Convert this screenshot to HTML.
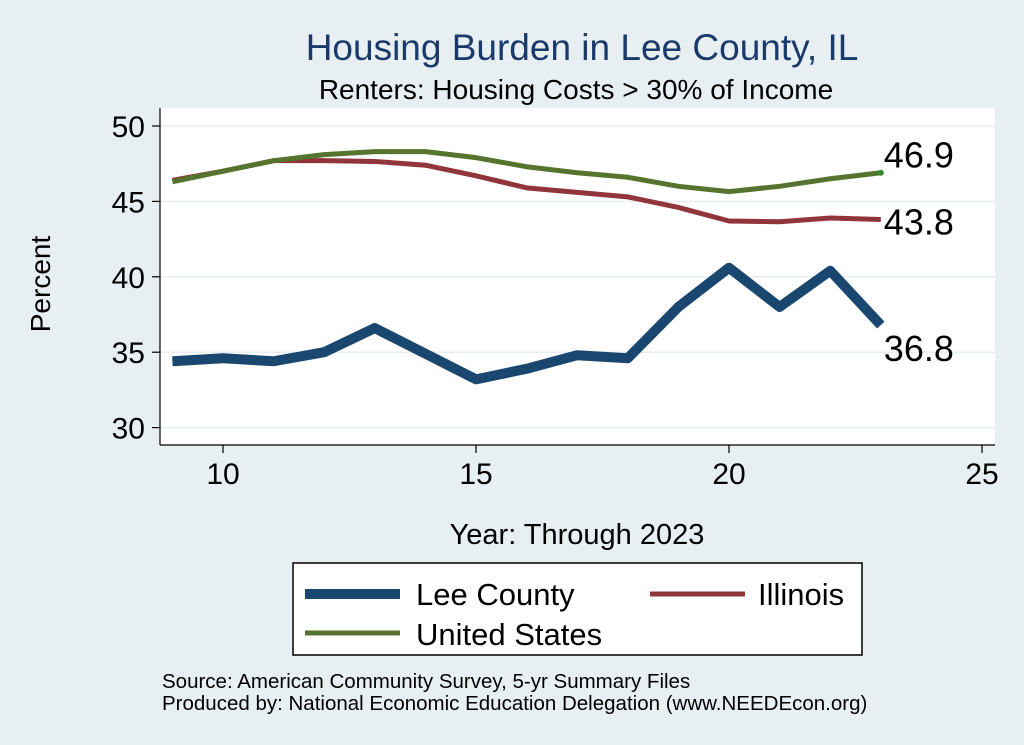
<!DOCTYPE html>
<html><head><meta charset="utf-8"><style>
body{margin:0;background:#e8eff3;}
svg{display:block;font-family:"Liberation Sans",Arial,sans-serif;}
</style></head><body>
<svg id="chart" width="1024" height="745" viewBox="0 0 1024 745">
<rect x="0" y="0" width="1024" height="745" fill="#e8eff3"/>
<text x="582" y="60" text-anchor="middle" font-size="37" fill="#1a3a6b">Housing Burden in Lee County, IL</text>
<text x="576" y="99" text-anchor="middle" font-size="28" fill="#000">Renters: Housing Costs &gt; 30% of Income</text>
<rect x="160" y="108" width="835" height="337" fill="#fff"/>
<g id="grid"></g>
<g id="axes"></g>
<g id="series"></g>
<g id="labels"></g>
<text x="50" y="284" text-anchor="middle" font-size="28" transform="rotate(-90 50 284)">Percent</text>
<text x="577" y="544" text-anchor="middle" font-size="29">Year: Through 2023</text>
<g>
<rect x="293" y="563" width="569" height="92" fill="#fff" stroke="#000" stroke-width="1.5"/>
<g><line x1="305" y1="594" x2="400" y2="594" stroke="#1a476f" stroke-width="10"/><text x="416" y="605" font-size="31">Lee County</text></g>
<g><line x1="650" y1="594" x2="745" y2="594" stroke="#90353b" stroke-width="5"/><text x="758" y="605" font-size="31">Illinois</text></g>
<g><line x1="305" y1="633" x2="400" y2="633" stroke="#55752f" stroke-width="5"/><text x="416" y="645" font-size="31">United States</text></g>
</g>
<text x="162" y="688" font-size="20.5">Source: American Community Survey, 5-yr Summary Files</text>
<text x="162" y="710" font-size="20.5">Produced by: National Economic Education Delegation (www.NEEDEcon.org)</text>
</svg>
<script>
const years=[9,10,11,12,13,14,15,16,17,18,19,20,21,22,23];
const leeCounty=[34.4,34.6,34.4,35.0,36.6,34.9,33.2,33.9,34.8,34.6,38.0,40.6,38.0,40.4,36.8];
const illinois=[46.4,47.0,47.7,47.7,47.65,47.4,46.7,45.9,45.6,45.3,44.6,43.7,43.65,43.9,43.8];
const unitedStates=[46.3,47.0,47.7,48.1,48.3,48.3,47.9,47.3,46.9,46.6,46.0,45.65,46.0,46.5,46.9];
const xTicks=[10,15,20,25];
const yTicks=[30,35,40,45,50];
const NS="http://www.w3.org/2000/svg";
function xs(v){return 223+(v-10)*50.6;}
function ys(v){return 126+(50-v)*15.08;}
function mk(t,a,p){const e=document.createElementNS(NS,t);for(const k in a)e.setAttribute(k,a[k]);p.appendChild(e);return e;}
const grid=document.getElementById('grid'),axes=document.getElementById('axes');
yTicks.forEach(v=>{
 const g=mk('line',{x1:160,x2:995,y1:ys(v),y2:ys(v),stroke:'#e6eef1','stroke-width':1.5},grid);
 
 
 mk('line',{x1:152,x2:160,y1:ys(v),y2:ys(v),stroke:'#000','stroke-width':1.2},axes);
 const t=mk('text',{x:145,y:ys(v)+11,'text-anchor':'end','font-size':30},axes);t.textContent=v;
 
 
});
xTicks.forEach(v=>{
 mk('line',{x1:xs(v),x2:xs(v),y1:445,y2:453,stroke:'#000','stroke-width':1.2},axes);
 const t=mk('text',{x:xs(v),y:484,'text-anchor':'middle','font-size':30},axes);t.textContent=v;
 
 
});
mk('line',{x1:160,x2:160,y1:108,y2:445,stroke:'#000','stroke-width':1.2},axes);
mk('line',{x1:160,x2:995,y1:445,y2:445,stroke:'#000','stroke-width':1.2},axes);
const ser=document.getElementById('series'),lab=document.getElementById('labels');
function draw(vals,color,w,name){
 const p=mk('polyline',{points:years.map((y,i)=>xs(y)+','+ys(vals[i])).join(' '),fill:'none',stroke:color,'stroke-width':w,'stroke-linejoin':'round'},ser);
 
 
}
draw(illinois,'#90353b',5,'illinois');
draw(unitedStates,'#55752f',5,'united-states');
draw(leeCounty,'#1a476f',10,'lee-county');
const n=years.length-1,lx=xs(years[n])+3;
const dot=mk('circle',{cx:xs(years[n]),cy:ys(unitedStates[n]),r:3,fill:'#2e8b2e'},ser);


[[unitedStates,-5,'us'],[illinois,15,'illinois'],[leeCounty,36,'lee-county']].forEach(([v,dy,nm])=>{
 const t=mk('text',{x:lx,y:ys(v[n])+dy,'font-size':36},lab);t.textContent=v[n].toFixed(1);
 
 
});
</script>
</body></html>
